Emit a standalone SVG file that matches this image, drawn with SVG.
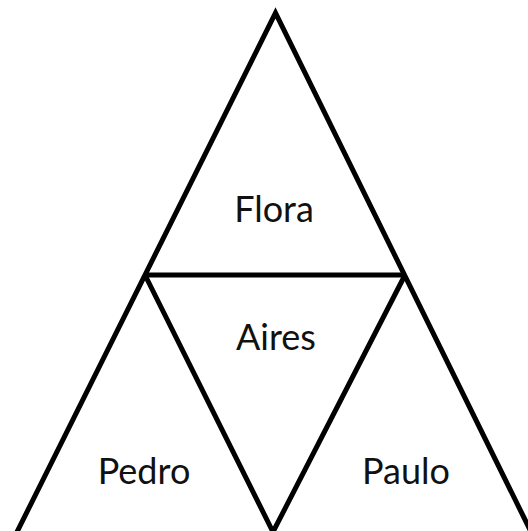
<svg xmlns="http://www.w3.org/2000/svg" width="528" height="531" viewBox="0 0 528 531">
<style>
.ln{stroke:#000;stroke-width:5;fill:none;stroke-linejoin:miter;stroke-linecap:butt}
.lb{font-family:Lato,"Open Sans","Liberation Sans",sans-serif;font-size:36px;fill:#111;text-anchor:middle}
</style>
<rect width="528" height="531" fill="#fff"/>
<g id="connectors">
<path class="ln" d="M13,540 L275.5,13 L535,540"/>
<path class="ln" d="M145,275 L405,275"/>
<path class="ln" d="M145,275 L273,532 L405,275"/>
</g>
<g id="flora"><text class="lb" x="274" y="222">Flora</text></g>
<g id="aires"><text class="lb" x="276" y="350">Aires</text></g>
<g id="pedro"><text class="lb" x="144" y="484">Pedro</text></g>
<g id="paulo"><text class="lb" x="406" y="484">Paulo</text></g>
</svg>
